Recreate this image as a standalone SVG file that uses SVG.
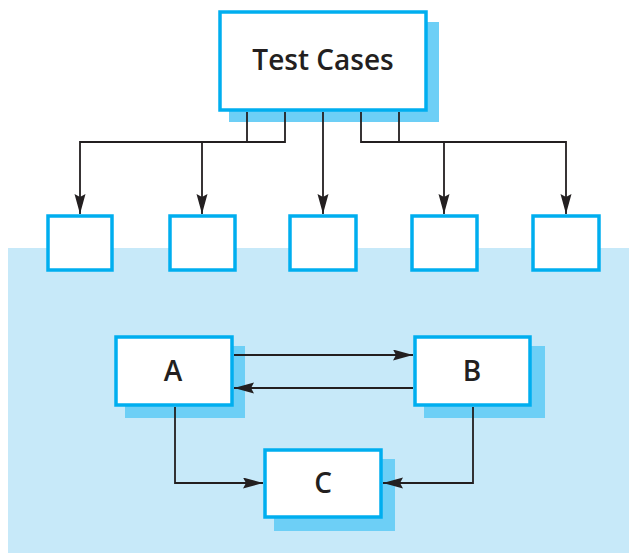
<svg xmlns="http://www.w3.org/2000/svg" width="629" height="553" viewBox="0 0 629 553">
  <style>
    .box { fill: #ffffff; stroke: #00aeef; stroke-width: 3.5; }
    .shadow { fill: #6dcff6; stroke: none; }
    .lbl { font-family: "Open Sans", "Liberation Sans", sans-serif; font-size: 28px; font-weight: 600; fill: #231f20; text-anchor: middle; }
    .conn { fill: none; stroke: #231f20; stroke-width: 1.8; marker-end: url(#arrow); }
  </style>
  <defs>
    <marker id="arrow" markerUnits="userSpaceOnUse" markerWidth="21" markerHeight="12" refX="20" refY="5.5" orient="auto">
      <path d="M0,0 L20,5.5 L0,11 L3,5.5 z" fill="#231f20"/>
    </marker>
  </defs>
  <rect width="629" height="553" fill="#ffffff"/>
  <rect x="8" y="248" width="621" height="305" fill="#c7e9f9"/>

  <g id="test-cases">
    <rect class="shadow" x="229" y="22" width="210" height="100"/>
    <rect class="box" x="220" y="12" width="206" height="98"/>
    <text class="lbl" x="323" y="70">Test Cases</text>
  </g>

  <g id="case1"><rect class="box" x="48" y="216" width="64" height="54"/></g>
  <g id="case2"><rect class="box" x="170" y="216" width="65" height="54"/></g>
  <g id="case3"><rect class="box" x="290" y="216" width="66" height="54"/></g>
  <g id="case4"><rect class="box" x="412" y="216" width="65" height="54"/></g>
  <g id="case5"><rect class="box" x="533" y="216" width="66" height="54"/></g>

  <g id="A">
    <rect class="shadow" x="125" y="346" width="120" height="72"/>
    <rect class="box" x="116" y="337" width="116" height="68"/>
    <text class="lbl" x="173" y="381">A</text>
  </g>
  <g id="B">
    <rect class="shadow" x="424" y="346" width="121" height="72"/>
    <rect class="box" x="415" y="337" width="115" height="68"/>
    <text class="lbl" x="472" y="381">B</text>
  </g>
  <g id="C">
    <rect class="shadow" x="274" y="459" width="121" height="72"/>
    <rect class="box" x="265" y="450" width="116" height="67"/>
    <text class="lbl" x="323" y="493">C</text>
  </g>

  <g id="connectors">
    <path class="conn" d="M247,112 V142 H80 V214"/>
    <path class="conn" d="M285,112 V142 H202 V214"/>
    <path class="conn" d="M323,112 V214"/>
    <path class="conn" d="M361,112 V142 H444 V214"/>
    <path class="conn" d="M399,112 V142 H566 V214"/>
    <path class="conn" d="M234,355 H413"/>
    <path class="conn" d="M413,388 H234"/>
    <path class="conn" d="M175,407 V483 H263"/>
    <path class="conn" d="M473,407 V483 H383"/>
  </g>
</svg>
